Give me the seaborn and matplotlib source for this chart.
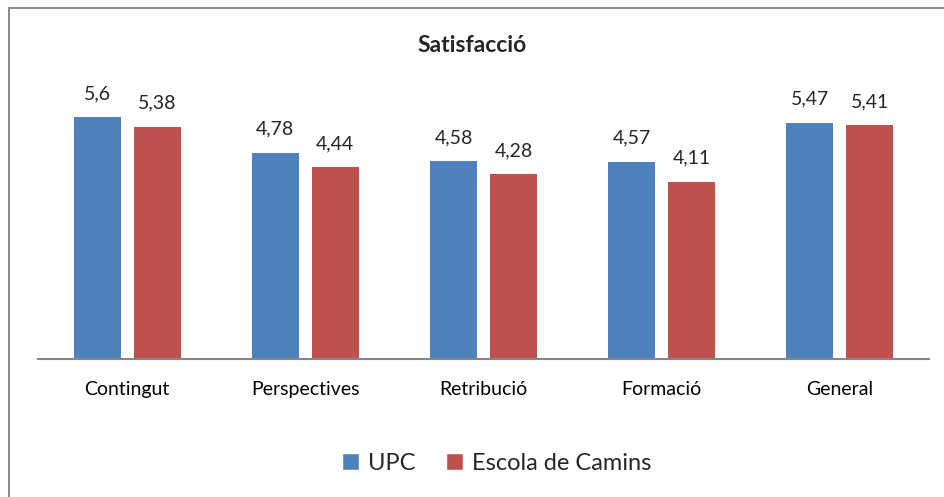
import pandas as pd
import seaborn as sns
import matplotlib.pyplot as plt
from matplotlib.lines import Line2D
from matplotlib.patches import Patch

categories = ["Contingut", "Perspectives", "Retribució", "Formació", "General"]
series = ["UPC", "Escola de Camins"]
upc = [5.6, 4.78, 4.58, 4.57, 5.47]
camins = [5.38, 4.44, 4.28, 4.11, 5.41]
colors = ["#4F81BD", "#C0504D"]

df = pd.DataFrame({
    "categoria": categories * 2,
    "serie": [series[0]] * len(categories) + [series[1]] * len(categories),
    "valor": upc + camins,
})

sns.set_style("white")
plt.rcParams["font.family"] = ["Lato", "DejaVu Sans"]

fig = plt.figure(figsize=(9.44, 4.97), dpi=100)
ax = fig.add_axes([38 / 944, 1 - 359 / 497, 891 / 944, 259 / 497])

sns.barplot(data=df, x="categoria", y="valor", hue="serie", palette=colors,
            saturation=1, width=0.673, gap=0.217, linewidth=0, ax=ax, legend=False)

ax.set_ylim(0, 6)
ax.set_xlim(-0.5, len(categories) - 0.5)
ax.set_xlabel("")
ax.set_ylabel("")
ax.set_yticks([])
for s in ["left", "right", "top"]:
    ax.spines[s].set_visible(False)
ax.spines["bottom"].set_color("#868686")
ax.spines["bottom"].set_linewidth(1.5)
ax.tick_params(axis="x", length=0, pad=16, labelsize=14, colors="black")

for cont in ax.containers:
    labels = [f"{b.get_height():g}".replace(".", ",") for b in cont]
    ax.bar_label(cont, labels=labels, padding=11, fontsize=14)

fig.text(0.5, 1 - 45 / 497, "Satisfacció", ha="center", va="center",
         fontsize=16.5, fontweight="bold")

handles = [Patch(facecolor=c, label=s) for c, s in zip(colors, series)]
fig.legend(handles=handles, loc="center", bbox_to_anchor=(497 / 944, 1 - 463 / 497),
           ncol=2, frameon=False, fontsize=17, handlelength=0.7, handleheight=0.7,
           handletextpad=0.4, columnspacing=1.3)

# chart border (only left and top edges visible in the frame)
fig.add_artist(Line2D([8.5 / 944, 8.5 / 944], [0, 1 - 7.5 / 497], color="#888888", lw=1.4,
                      transform=fig.transFigure))
fig.add_artist(Line2D([8.5 / 944, 1], [1 - 7.5 / 497, 1 - 7.5 / 497], color="#888888", lw=1.4,
                      transform=fig.transFigure))

fig.savefig("out.png", dpi=100)
